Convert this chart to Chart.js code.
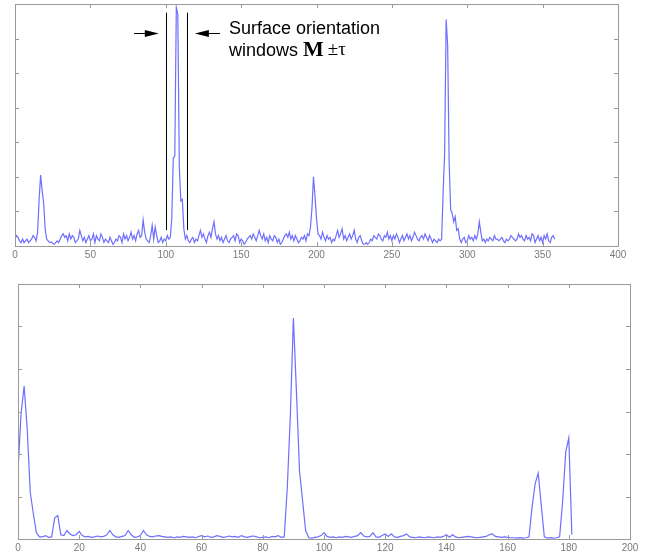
<!DOCTYPE html>
<html><head><meta charset="utf-8">
<script src="https://cdn.jsdelivr.net/npm/chart.js@4.4.0/dist/chart.umd.min.js"></script>
<style>
html,body{margin:0;padding:0;background:#fff;width:650px;height:555px;overflow:hidden}
#c1{position:absolute;left:0;top:0}
#c2{position:absolute;left:0;top:280px}
</style></head><body>
<canvas id="c1" width="650" height="266"></canvas>
<canvas id="c2" width="650" height="275"></canvas>
<script>
// Top histogram: orientation angle 0..358 (step 1)
const topValues=[
0.2,0.3,0.25,0.15,0.1,0.2,0.1,0.15,0.2,0.1,
0.15,0.2,0.3,0.25,0.15,0.4,1.35,2.05,1.6,1.25,
0.5,0.2,0.15,0.1,0.12,0.08,0.05,0.1,0.15,0.1,
0.2,0.3,0.35,0.25,0.3,0.15,0.35,0.2,0.3,0.25,
0.1,0.15,0.2,0.45,0.3,0.15,0.25,0.1,0.2,0.3,
0.15,0.2,0.35,0.1,0.3,0.2,0.15,0.35,0.25,0.1,
0.2,0.15,0.1,0.25,0.15,0.05,0.1,0.2,0.15,0.3,
0.25,0.1,0.35,0.2,0.3,0.15,0.25,0.4,0.2,0.3,
0.15,0.35,0.45,0.25,0.3,0.75,0.4,0.2,0.15,0.1,
0.3,0.6,0.2,0.55,0.3,0.1,0.15,0.25,0.1,0.2,
0.15,0.3,0.2,0.25,0.8,2.55,2.6,6.9,6.7,2.3,
1.3,1.35,0.5,0.2,0.3,0.15,0.1,0.2,0.25,0.1,
0.2,0.15,0.3,0.45,0.25,0.35,0.2,0.1,0.3,0.4,
0.25,0.5,0.7,0.35,0.2,0.3,0.15,0.25,0.1,0.2,
0.3,0.15,0.1,0.2,0.25,0.3,0.15,0.35,0.3,0.1,
0.2,0.15,0.05,0.1,0.2,0.25,0.3,0.2,0.35,0.25,
0.15,0.3,0.45,0.3,0.2,0.35,0.15,0.25,0.1,0.3,
0.2,0.15,0.3,0.25,0.1,0.2,0.05,0.1,0.2,0.3,
0.35,0.25,0.4,0.2,0.3,0.15,0.3,0.2,0.1,0.15,
0.25,0.2,0.3,0.15,0.35,0.3,0.55,1.1,2.0,1.45,
0.8,0.35,0.3,0.2,0.4,0.25,0.15,0.3,0.2,0.25,
0.1,0.2,0.15,0.3,0.45,0.25,0.35,0.5,0.2,0.3,
0.15,0.25,0.35,0.2,0.3,0.45,0.2,0.1,0.25,0.3,
0.15,0.05,0.05,0.1,0.05,0.1,0.2,0.15,0.3,0.25,
0.2,0.35,0.3,0.2,0.15,0.3,0.25,0.4,0.2,0.3,
0.15,0.3,0.2,0.35,0.25,0.1,0.2,0.3,0.15,0.25,
0.35,0.2,0.3,0.15,0.25,0.4,0.3,0.2,0.15,0.25,
0.3,0.2,0.35,0.25,0.15,0.3,0.2,0.1,0.2,0.15,
0.1,0.2,0.15,0.2,1.55,2.7,6.55,5.8,2.4,1.05,
0.95,0.7,0.85,0.45,0.5,0.2,0.1,0.2,0.25,0.1,
0.15,0.3,0.2,0.25,0.15,0.3,0.2,0.35,0.7,0.4,
0.15,0.2,0.1,0.2,0.15,0.25,0.2,0.15,0.3,0.2,
0.2,0.15,0.2,0.25,0.15,0.1,0.2,0.15,0.2,0.3,
0.25,0.2,0.15,0.2,0.35,0.25,0.3,0.2,0.15,0.3,
0.2,0.25,0.15,0.35,0.3,0.1,0.2,0.3,0.15,0.25,
0.1,0.3,0.2,0.35,0.15,0.1,0.25,0.3,0.2
];
// Bottom histogram: angle 0..181 (step 1)
const bottomValues=[
1.6,2.95,3.6,2.6,1.1,0.6,0.15,0.05,0.05,0.08,
0.04,0.05,0.5,0.55,0.1,0.08,0.2,0.12,0.08,0.1,
0.18,0.08,0.05,0.06,0.04,0.05,0.07,0.05,0.06,0.1,
0.2,0.1,0.05,0.04,0.06,0.08,0.2,0.1,0.04,0.05,
0.08,0.2,0.1,0.06,0.05,0.07,0.08,0.06,0.05,0.04,
0.05,0.03,0.05,0.04,0.06,0.05,0.04,0.05,0.03,0.06,
0.08,0.05,0.07,0.04,0.05,0.08,0.06,0.04,0.05,0.07,
0.05,0.06,0.04,0.08,0.05,0.04,0.06,0.07,0.05,0.03,
0.04,0.05,0.03,0.06,0.05,0.08,0.04,0.05,1.2,2.9,
5.2,3.45,1.6,0.9,0.2,0.03,0.02,0.04,0.05,0.08,
0.15,0.06,0.04,0.05,0.03,0.05,0.04,0.06,0.05,0.04,
0.06,0.08,0.15,0.07,0.05,0.06,0.15,0.05,0.04,0.08,
0.12,0.06,0.12,0.05,0.04,0.06,0.08,0.12,0.05,0.04,
0.03,0.05,0.04,0.03,0.05,0.04,0.03,0.05,0.04,0.06,
0.1,0.04,0.1,0.05,0.03,0.04,0.05,0.06,0.05,0.04,
0.03,0.04,0.05,0.06,0.1,0.12,0.06,0.05,0.04,0.05,
0.04,0.03,0.03,0.02,0.03,0.02,0.03,0.05,0.75,1.3,
1.55,0.8,0.05,0.02,0.03,0.02,0.03,0.05,0.9,2.05,
2.38,0.1
];
const topXTicks=[0,50,100,150,200,250,300,350,400];
const topYTicks=[0,1,2,3,4,5,6,7];
const bottomXTicks=[0,20,40,60,80,100,120,140,160,180,200];
const bottomYTicks=[0,1,2,3,4,5,6];
// annotation (data units of the top chart)
const windowEdges=[100,114];
const windowLineSpan=[0.46,6.75];
const arrowLevel=6.17;
const leftArrow=[79,95.4];   // tail, tip
const rightArrow=[136,119.3]; // tail, tip
const noteLine1="Surface orientation";
const noteLine2="windows";
const noteSymbol="M";
const noteSuffix="\u00B1\u03C4";

const LINE='rgb(110,110,255)';

const boxPlugin={
  id:'box',
  afterDraw(chart,args,opts){
    const {ctx,chartArea:a,scales}=chart;
    ctx.save();
    ctx.strokeStyle='#9a9a9a';ctx.lineWidth=1;
    ctx.strokeRect(Math.round(a.left)+0.5,Math.round(a.top)+0.5,Math.round(a.right-a.left),Math.round(a.bottom-a.top));
    ctx.beginPath();
    opts.xTicks.forEach(v=>{
      const p=Math.round(scales.x.getPixelForValue(v))+0.5;
      ctx.moveTo(p,a.bottom);ctx.lineTo(p,a.bottom-4);
      ctx.moveTo(p,a.top);ctx.lineTo(p,a.top+4);
    });
    opts.yTicks.forEach(v=>{
      const p=Math.round(scales.y.getPixelForValue(v))+0.5;
      ctx.moveTo(a.left,p);ctx.lineTo(a.left+4,p);
      ctx.moveTo(a.right,p);ctx.lineTo(a.right-4,p);
    });
    ctx.stroke();
    ctx.restore();
  }
};

const notePlugin={
  id:'note',
  afterDraw(chart){
    const {ctx,scales:{x,y}}=chart;
    ctx.save();
    ctx.strokeStyle='#000';ctx.fillStyle='#000';ctx.lineWidth=1;
    ctx.beginPath();
    windowEdges.forEach(v=>{
      const p=Math.round(x.getPixelForValue(v))+0.5;
      ctx.moveTo(p,y.getPixelForValue(windowLineSpan[1]));
      ctx.lineTo(p,y.getPixelForValue(windowLineSpan[0]));
    });
    ctx.stroke();
    const ay=Math.round(y.getPixelForValue(arrowLevel))+0.5;
    function arrow(tail,tip){
      const t=x.getPixelForValue(tail),h=x.getPixelForValue(tip);
      const dir=Math.sign(h-t);
      ctx.beginPath();ctx.moveTo(t,ay);ctx.lineTo(h-dir*13,ay);ctx.stroke();
      ctx.beginPath();ctx.moveTo(h,ay);ctx.lineTo(h-dir*14,ay-3.5);ctx.lineTo(h-dir*14,ay+3.5);ctx.closePath();ctx.fill();
    }
    arrow(leftArrow[0],leftArrow[1]);
    arrow(rightArrow[0],rightArrow[1]);
    const tx=x.getPixelForValue(rightArrow[0])+9;
    ctx.textBaseline='alphabetic';
    ctx.font='18px "Liberation Sans", Arial, sans-serif';
    ctx.fillText(noteLine1,tx,ay+0.5);
    ctx.fillText(noteLine2,tx,ay+22.5);
    let cx=tx+ctx.measureText(noteLine2+' ').width;
    ctx.font='bold 22px "Liberation Serif", serif';
    ctx.fillText(noteSymbol,cx,ay+22.5);
    cx+=ctx.measureText(noteSymbol).width+4;
    ctx.font='19px "Liberation Serif", serif';
    ctx.fillText(noteSuffix,cx,ay+21.5);
    ctx.restore();
  }
};

function makeChart(id,values,xMax,xStep,yMax,xt,yt,pad,axisH,extra){
  const pts=values.map((v,i)=>({x:i,y:v}));
  return new Chart(document.getElementById(id),{
    type:'line',
    data:{datasets:[{data:pts,borderColor:LINE,borderWidth:1.2,pointRadius:0,tension:0,fill:false}]},
    options:{
      responsive:false,animation:false,devicePixelRatio:1,
      layout:{padding:pad},
      plugins:{legend:{display:false},tooltip:{enabled:false},box:{xTicks:xt,yTicks:yt}},
      scales:{
        x:{type:'linear',min:0,max:xMax,
           ticks:{stepSize:xStep,autoSkip:false,maxRotation:0,padding:3,color:'#7a7a7a',font:{family:'"Liberation Sans", Arial',size:10}},
           grid:{display:false,drawTicks:false,tickLength:0},border:{display:false},
           afterFit(s){s.height=axisH;}},
        y:{min:0,max:yMax,ticks:{display:false,stepSize:1},grid:{display:false,drawTicks:false,tickLength:0},border:{display:false},
           afterFit(s){s.width=0;}}
      }
    },
    plugins:[boxPlugin].concat(extra)
  });
}

makeChart('c1',topValues,400,50,7,topXTicks,topYTicks,{left:15,right:32,top:4,bottom:0},20,[notePlugin]);
makeChart('c2',bottomValues,200,20,6,bottomXTicks,bottomYTicks,{left:18,right:20,top:4,bottom:0},16,[]);
</script>
</body></html>
